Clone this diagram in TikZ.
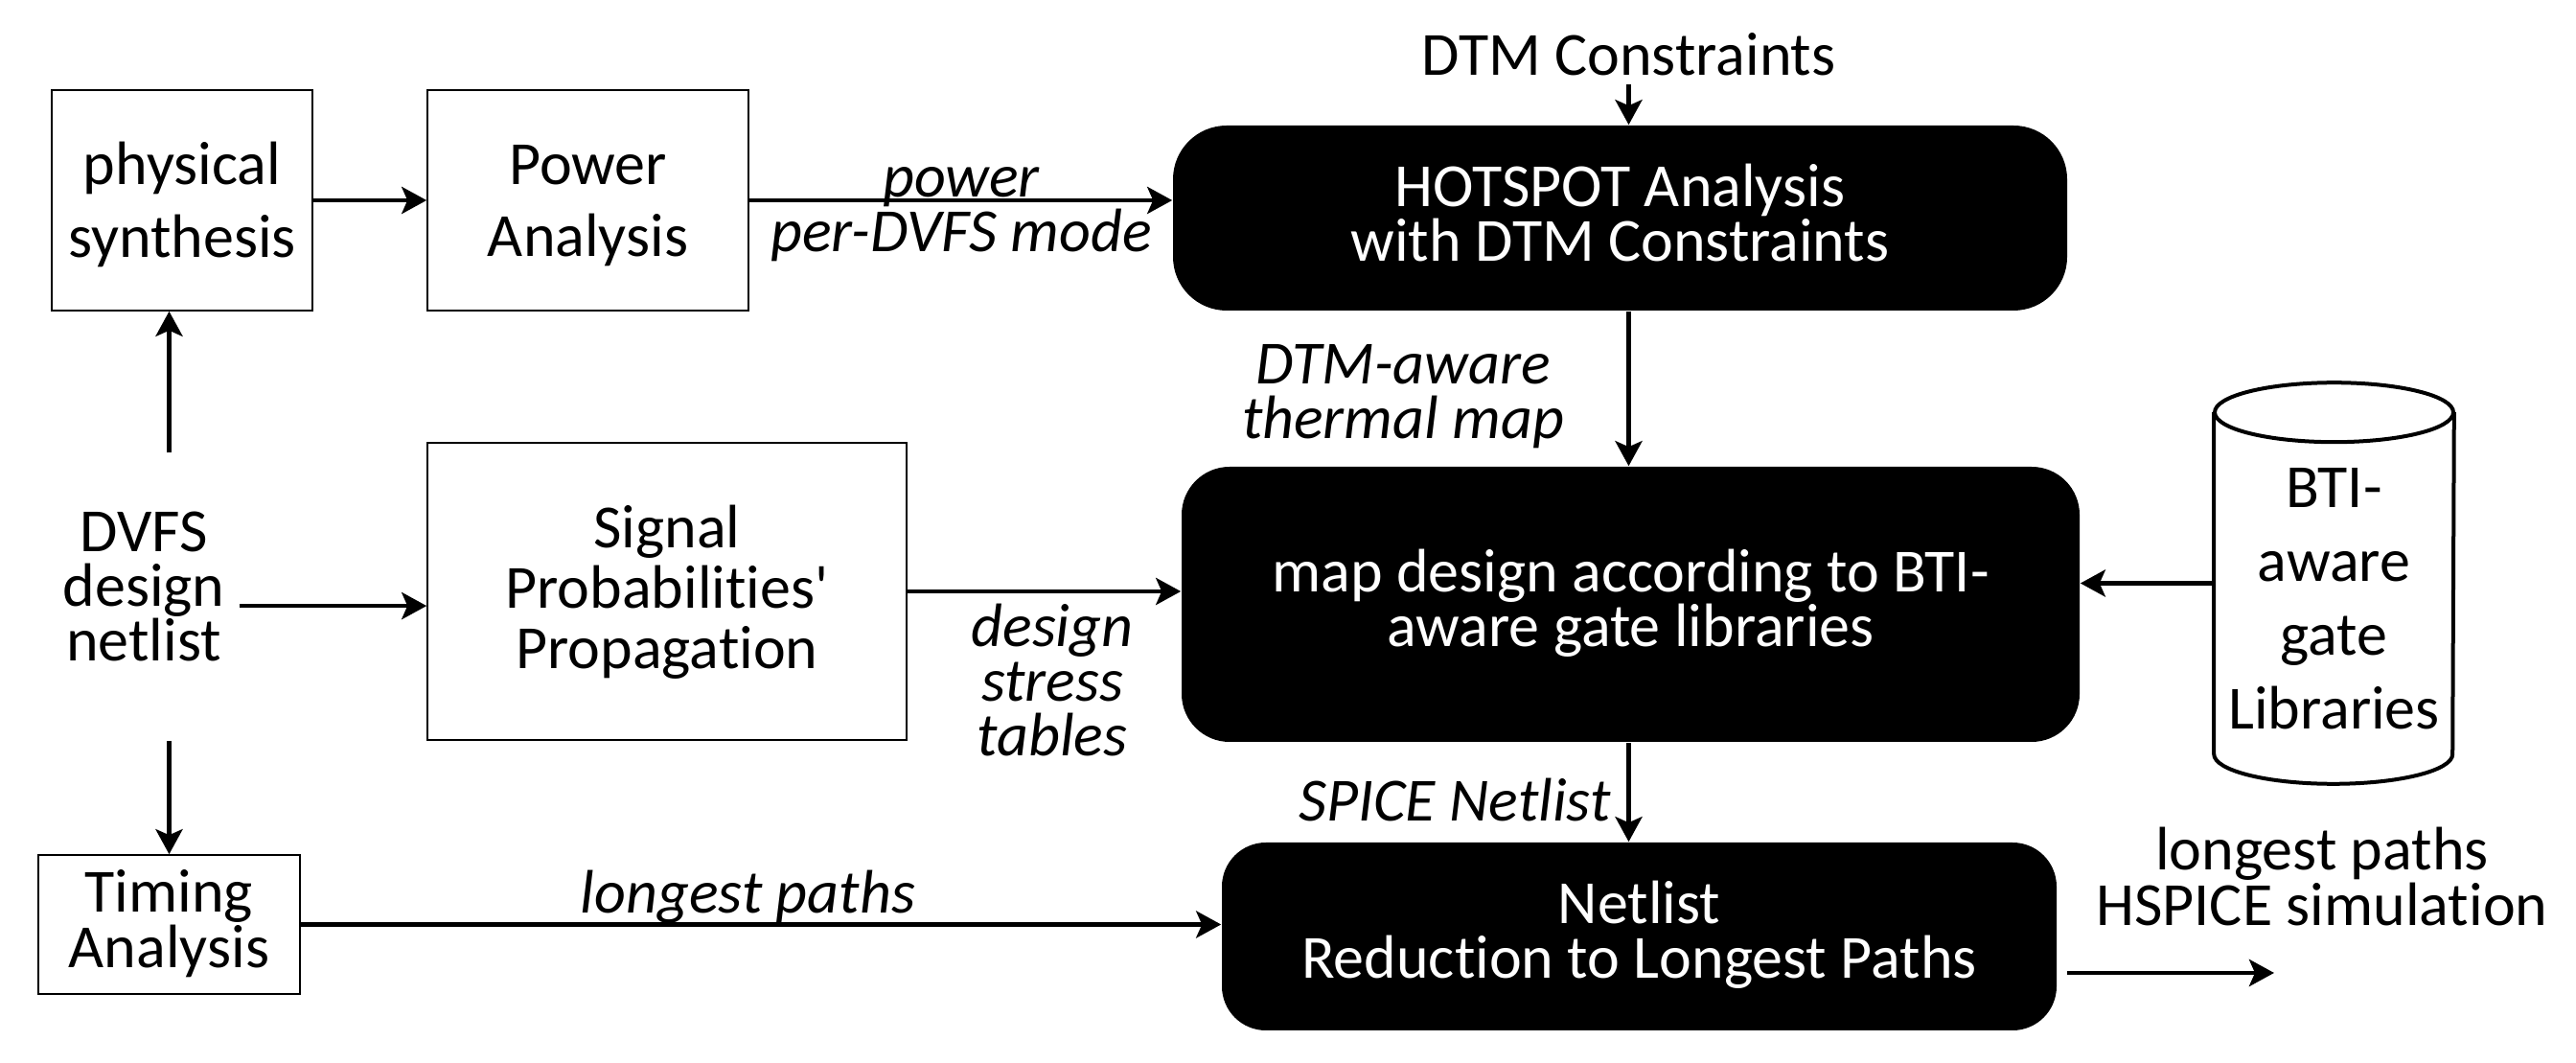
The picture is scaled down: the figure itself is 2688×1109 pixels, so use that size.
\documentclass[tikz,border=0pt]{standalone}
\usepackage{fontspec}
\setmainfont{Carlito}[Ligatures={TeX,NoCommon}]
\usetikzlibrary{arrows.meta}
\newcommand\TS[1]{\rule{0pt}{#1}}
\newcommand\BS[1][5pt]{\rule[-#1]{0pt}{#1}}
\tikzset{
  fnt/.style={font={\fontsize{16}{#1}\selectfont\lineskiplimit=-\maxdimen}},
  ifnt/.style={font={\fontsize{16}{#1}\selectfont\itshape\lineskiplimit=-\maxdimen}},
  plainbox/.style={draw, line width=0.4pt, inner sep=0pt, align=center},
  darkbox/.style={fill=black, text=white, rounded corners=12.5pt, inner sep=0pt, align=center},
  lbl/.style={inner sep=0pt, align=center},
  arr/.style={line width=1.2pt, -{Stealth[length=6.5pt,width=7pt,inset=1.5pt]}},
  cyl/.style={line width=1pt}
}
\begin{document}
\begin{tikzpicture}[x=0.25pt,y=-0.25pt]
\fill[white] (0,0) rectangle (2688,1109);
\useasboundingbox (0,0) rectangle (2688,1109);

% boxes
\node[plainbox, fnt=18.9pt, minimum width=68pt, minimum height=57.5pt] (phys) at (190,209)
  {\TS{15.9pt}physical\\synthesis\BS};
\node[plainbox, fnt=18.9pt, minimum width=83.75pt, minimum height=57.5pt] (pow) at (613.5,209)
  {\TS{15.6pt}Power\\Analysis\BS};
\node[darkbox, rounded corners=14pt, fnt=14.25pt, minimum width=233.25pt, minimum height=48.25pt] (hot) at (1690.5,227.5)
  {\TS{13.5pt}HOTSPOT Analysis\\with DTM Constraints\BS};
\node[darkbox, fnt=14.25pt, minimum width=234.25pt, minimum height=71.75pt] (map) at (1701.5,630.5)
  {\TS{13pt}map design according to BTI-\\aware gate libraries\BS};
\node[darkbox, rounded corners=11.5pt, fnt=14.25pt, minimum width=217.75pt, minimum height=49pt] (net) at (1710.5,977)
  {\TS{12.5pt}Netlist\\Reduction to Longest Paths\BS};
\node[plainbox, fnt=15.75pt, minimum width=125pt, minimum height=77.5pt] (sig) at (696,617)
  {\TS{14pt}Signal\\Probabilities\textquotesingle\\Propagation\BS};
\node[plainbox, fnt=14.5pt, minimum width=68.25pt, minimum height=36.25pt] (tim) at (176.5,964.5)
  {\TS{13.25pt}Timing\\Analysis\BS};
\node[lbl, fnt=14.25pt, minimum width=49.5pt, minimum height=74.75pt] (dvfs) at (150,622.5)
  {\TS{12.75pt}DVFS\\design\\netlist\BS[7.5pt]};

% cylinder (gate libraries)
\node[lbl, fnt=19.25pt, minimum width=62.25pt, minimum height=104.25pt] (lib) at (2435.5,608.5)
  {\TS{23.25pt}BTI-\\aware\\gate\\Libraries\BS};
\draw[cyl] ([yshift=-7.75pt]lib.north) ellipse [x radius=31.125pt, y radius=7.75pt];
\draw[cyl] ([yshift=-7.75pt]lib.north west) -- ([yshift=7.75pt]lib.south west)
  arc[start angle=180, end angle=360, x radius=31.125pt, y radius=7.75pt]
  -- ([yshift=-7.75pt]lib.north east);

% free labels
\node[lbl, fnt=14.25pt, anchor=base, inner sep=2pt] (dtm) at (1699.5,79) {DTM Constraints};
\node[lbl, ifnt=14.25pt] (powlbl) at (1003,219.5) {\TS{12.5pt}power\\per-DVFS mode\BS};
\node[lbl, ifnt=14.25pt] (thm) at (1464,414.5) {\TS{12.5pt}DTM-aware\\thermal map\BS};
\node[lbl, ifnt=14.25pt] (dsl) at (1098,717) {\TS{12.5pt}design\\stress\\tables\BS};
\node[lbl, ifnt=14.25pt, anchor=base] (spice) at (1518,857) {SPICE Netlist};
\node[lbl, ifnt=14.25pt, anchor=base] (lp) at (780.5,953) {longest paths};
\node[lbl, fnt=14.5pt] (hsp) at (2423,922) {\TS{12.5pt}longest paths\\HSPICE simulation\BS};

% connectors
\coordinate (dv) at ([yshift=-2.4pt]dvfs.east);
\coordinate (out) at (2373,1015);
\draw[arr] (dvfs.north -| tim.north) -- (phys.south -| tim.north);
\draw[arr] (dvfs.south -| tim.north) -- (tim.north);
\draw[arr] (dv) -- (dv -| sig.west);
\draw[arr] (phys.east) -- (pow.west);
\draw[arr] (pow.east) -- (pow.east -| hot.west);
\draw[arr] (dtm) -- (dtm |- hot.north);
\draw[arr] (dtm |- hot.south) -- (dtm |- map.north);
\draw[arr] (sig.east) -- (sig.east -| map.west);
\draw[arr] (lib.west) -- (lib.west -| map.east);
\draw[arr] (dtm |- map.south) -- (dtm |- net.north);
\draw[arr] (tim.east) -- (tim.east -| net.west);
\draw[arr, shorten <=2.5pt] (net.east |- out) -- (out);
\end{tikzpicture}
\end{document}
